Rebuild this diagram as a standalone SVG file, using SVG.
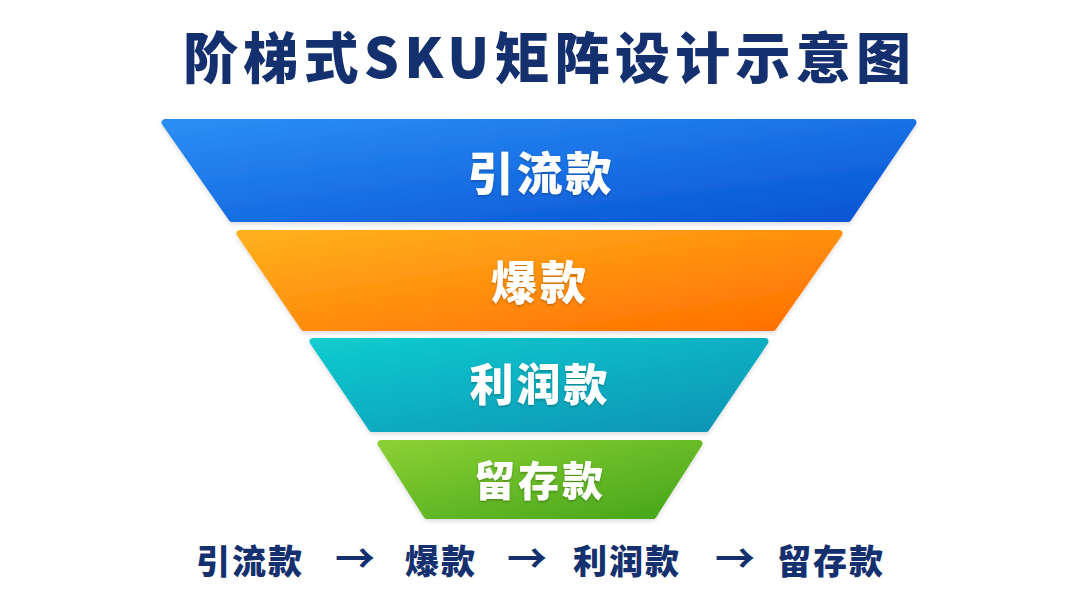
<svg xmlns="http://www.w3.org/2000/svg" width="1080" height="608" viewBox="0 0 1080 608">
<style>
.tier{stroke-width:7;stroke-linejoin:round}
.lbl{font-family:"Noto Sans CJK SC","Noto Sans",sans-serif;font-weight:900;fill:#ffffff;text-anchor:middle;letter-spacing:3px}
.flow{font-family:"Noto Sans CJK SC","Noto Sans",sans-serif;font-weight:900;fill:#14306e;font-size:34px;text-anchor:middle;letter-spacing:2px}
.title{font-family:"Noto Sans CJK SC","Noto Sans",sans-serif;font-weight:900;fill:#14306e;font-size:55px;text-anchor:middle}
</style>
<defs>
<linearGradient id="g1" x1="0" y1="0" x2="1" y2="1"><stop offset="0" stop-color="#2b8ef5"/><stop offset="1" stop-color="#0753d3"/></linearGradient>
<linearGradient id="g2" x1="0" y1="0" x2="1" y2="1"><stop offset="0" stop-color="#ffb11c"/><stop offset="1" stop-color="#ff6e00"/></linearGradient>
<linearGradient id="g3" x1="0" y1="0" x2="1" y2="1"><stop offset="0" stop-color="#12cbcf"/><stop offset="1" stop-color="#0a93b4"/></linearGradient>
<linearGradient id="g4" x1="0" y1="0" x2="1" y2="1"><stop offset="0" stop-color="#8ad034"/><stop offset="1" stop-color="#45a51a"/></linearGradient>
<filter id="sh" x="-10%" y="-10%" width="120%" height="130%"><feDropShadow dx="0" dy="2" stdDeviation="2" flood-color="#000" flood-opacity="0.15"/></filter>
<filter id="ts"><feDropShadow dx="0" dy="1.5" stdDeviation="1.2" flood-color="#000" flood-opacity="0.25"/></filter>
</defs>
<rect width="1080" height="608" fill="#ffffff"/>
<g id="title"><text class="title" x="547" y="78" textLength="728" lengthAdjust="spacing">阶梯式SKU矩阵设计示意图</text></g>
<g id="tier1" filter="url(#sh)">
<polygon class="tier" points="165,122.5 913,122.5 848,218.5 232,218.5" fill="url(#g1)" stroke="url(#g1)"/>
<text class="lbl" x="541" y="190" font-size="46" filter="url(#ts)">引流款</text>
</g>
<g id="tier2" filter="url(#sh)">
<polygon class="tier" points="240,233.5 839,233.5 773,327.5 304,327.5" fill="url(#g2)" stroke="url(#g2)"/>
<text class="lbl" x="540" y="299" font-size="46" filter="url(#ts)">爆款</text>
</g>
<g id="tier3" filter="url(#sh)">
<polygon class="tier" points="313,341.5 765,341.5 706,428.5 372,428.5" fill="url(#g3)" stroke="url(#g3)"/>
<text class="lbl" x="540" y="401" font-size="44" filter="url(#ts)">利润款</text>
</g>
<g id="tier4" filter="url(#sh)">
<polygon class="tier" points="381,443.5 699,443.5 653,515.5 427,515.5" fill="url(#g4)" stroke="url(#g4)"/>
<text class="lbl" x="540" y="496" font-size="41" filter="url(#ts)">留存款</text>
</g>
<g id="flow">
<text class="flow" x="250" y="574">引流款</text>
<text class="flow" x="441" y="574">爆款</text>
<text class="flow" x="627" y="574">利润款</text>
<text class="flow" x="831" y="574">留存款</text>
</g>
<g id="connectors" font-family="'Noto Sans CJK SC','Noto Sans',sans-serif" font-size="40" font-weight="700" fill="#14306e" text-anchor="middle">
<text x="355" y="573">→</text>
<text x="527" y="573">→</text>
<text x="735" y="573">→</text>
</g>
</svg>
